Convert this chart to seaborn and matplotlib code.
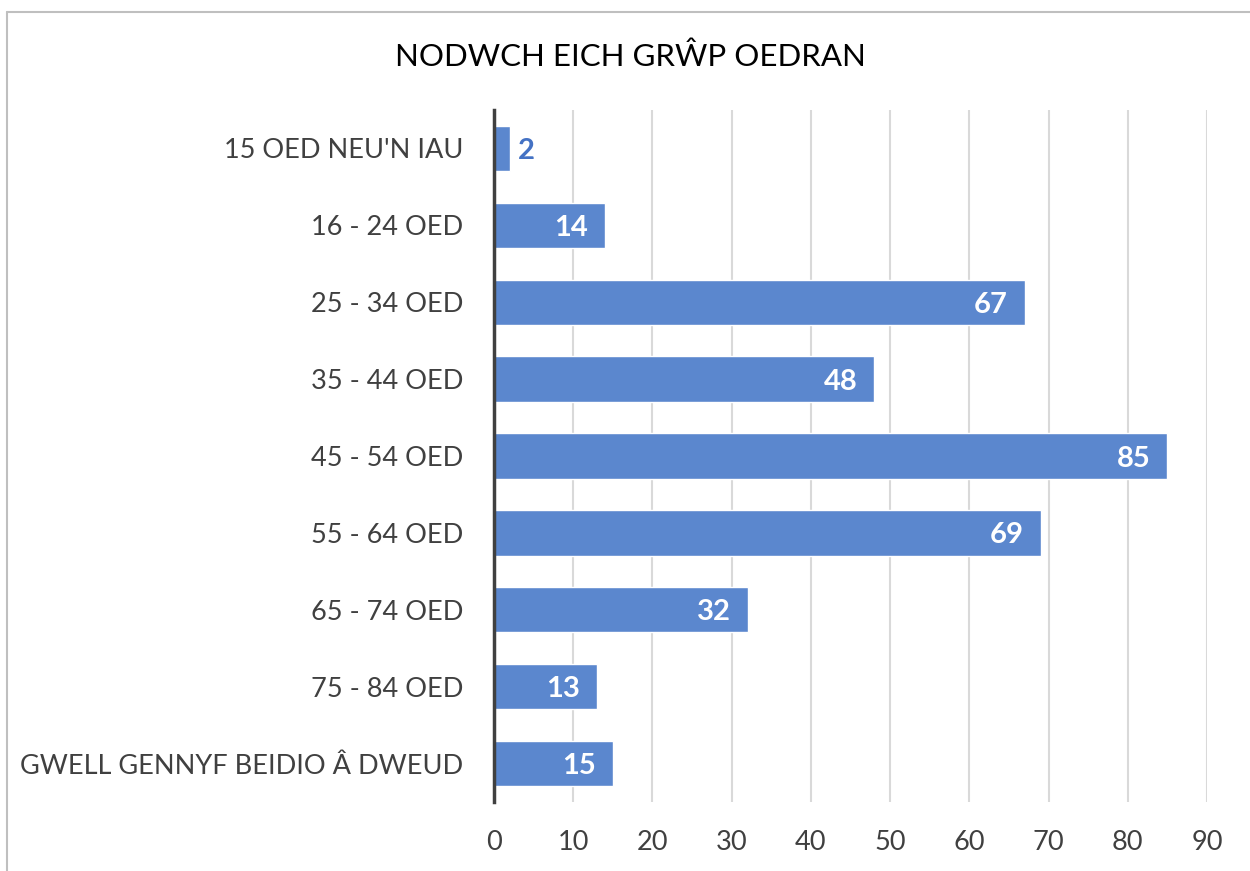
import matplotlib
matplotlib.use("Agg")
import matplotlib.pyplot as plt
import seaborn as sns
import pandas as pd
from matplotlib.lines import Line2D

categories = ["15 OED NEU'N IAU", "16 - 24 OED", "25 - 34 OED", "35 - 44 OED",
              "45 - 54 OED", "55 - 64 OED", "65 - 74 OED", "75 - 84 OED",
              "GWELL GENNYF BEIDIO Â DWEUD"]
values = [2, 14, 67, 48, 85, 69, 32, 13, 15]
xticks = [0, 10, 20, 30, 40, 50, 60, 70, 80, 90]
title = "NODWCH EICH GRŴP OEDRAN"

df = pd.DataFrame({"grwp": categories, "nifer": values})

sns.set_theme(style="white")
plt.rcParams['font.family'] = ['Lato', 'DejaVu Sans']

fig = plt.figure(figsize=(12.5, 8.71), dpi=100)
ax = fig.add_axes([494 / 1250, 1 - 802 / 871, (1207 - 494) / 1250, (802 - 110) / 871])

bar_color = "#5B87CE"
sns.barplot(data=df, x="nifer", y="grwp", orient="h", color=bar_color,
            width=0.59, saturation=1, ax=ax, zorder=2)

ax.set_xlim(0, 90)
ax.set_ylim(len(categories) - 0.5, -0.5)
ax.set_xticks(xticks)
ax.set_xticklabels([str(t) for t in xticks])
ax.xaxis.grid(True, color="#D9D9D9", linewidth=1.5, zorder=0)
ax.set_axisbelow(True)
ax.set_xlabel("")
ax.set_ylabel("")

for s in ["top", "right", "bottom"]:
    ax.spines[s].set_visible(False)
ax.spines["left"].set_color("#404040")
ax.spines["left"].set_linewidth(2.5)
ax.spines["left"].set_zorder(5)

ax.tick_params(axis="both", length=0, labelsize=19.5, colors="#404040")
ax.tick_params(axis="x", pad=20)
ax.tick_params(axis="y", pad=22)

for i, v in enumerate(values):
    if v < 5:
        ax.annotate(str(v), (v, i), xytext=(6, 0), textcoords="offset points",
                    ha="left", va="center_baseline", color="#4472C4",
                    fontsize=21, fontweight="bold", zorder=6)
    else:
        ax.annotate(str(v), (v, i), xytext=(-12, 0), textcoords="offset points",
                    ha="right", va="center_baseline", color="white",
                    fontsize=21, fontweight="bold", zorder=6)

fig.text(630 / 1250, 1 - 57 / 871, title, ha="center", va="center",
         fontsize=22.5, color="black")

# chart frame (left and top edges visible)
fig.add_artist(Line2D([7 / 1250, 7 / 1250], [0, 1 - 12 / 871],
                      transform=fig.transFigure, color="#BFBFBF", linewidth=1.5))
fig.add_artist(Line2D([7 / 1250, 1], [1 - 12 / 871, 1 - 12 / 871],
                      transform=fig.transFigure, color="#BFBFBF", linewidth=1.5))

fig.savefig("out.png", dpi=100)
